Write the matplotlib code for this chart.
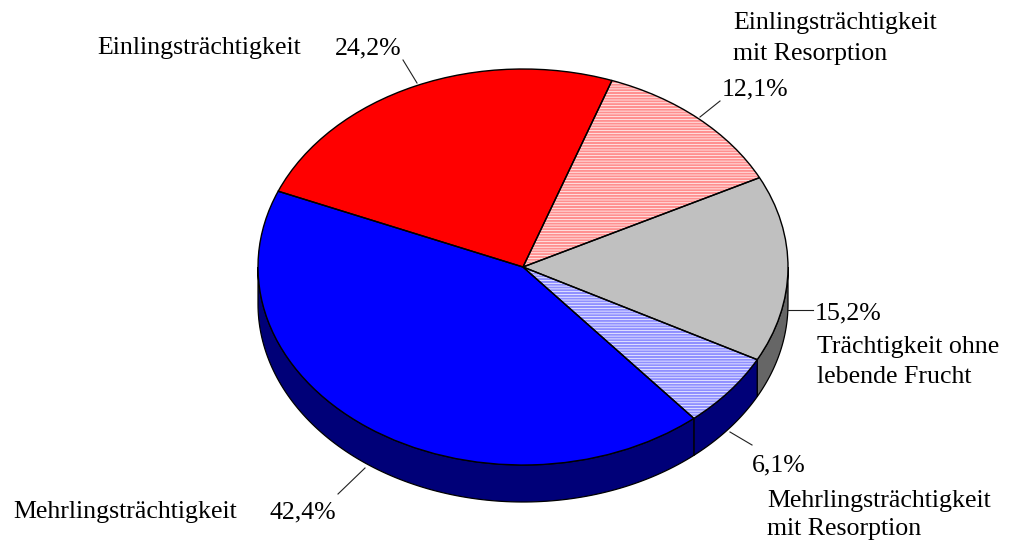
import numpy as np
import matplotlib
matplotlib.use("Agg")
import matplotlib.pyplot as plt
from matplotlib.patches import Polygon
from matplotlib.transforms import Affine2D

# ---- data -------------------------------------------------------------
categories = [
    "Einlingsträchtigkeit",
    "Einlingsträchtigkeit\nmit Resorption",
    "Trächtigkeit ohne\nlebende Frucht",
    "Mehrlingsträchtigkeit\nmit Resorption",
    "Mehrlingsträchtigkeit",
]
shares = [24.2, 12.1, 15.2, 6.1, 42.4]

top_colors = ["#FF0000", "#FFFFFF", "#C0C0C0", "#FFFFFF", "#0000FF"]
hatch_colors = ["#FF0000", "#FF9090", "#C0C0C0", "#9090FF", "#0000FF"]
hatches = ["", "------", "", "------", ""]
side_colors = ["#800000", "#A05050", "#666666", "#000078", "#000078"]

# ---- layout (pixels) ---------------------------------------------------
W, H = 1009, 543
CX, CY = 523, 267          # centre of the top face
RX, RY = 265, 198          # half axes of the top face
DEPTH = 37                 # thickness of the disc
START = 157.5              # angle where the first slice begins

plt.rcParams["hatch.linewidth"] = 1.5
plt.rcParams["font.family"] = ["Liberation Serif", "DejaVu Serif"]

fig = plt.figure(figsize=(W / 100, H / 100), dpi=100)
ax = fig.add_axes([0, 0, 1, 1])

# side walls of the disc (only the front half is visible)
d = DEPTH / RY
bounds = START - np.concatenate([[0], np.cumsum(shares)]) * 3.6
for i in range(len(shares)):
    hi, lo = bounds[i], bounds[i + 1]
    for k in (-1, 0, 1):
        a, b = max(lo + 360 * k, -180), min(hi + 360 * k, 0)
        if b <= a:
            continue
        t = np.radians(np.linspace(a, b, 120))
        upper = np.column_stack([np.cos(t), np.sin(t)])
        lower = np.column_stack([np.cos(t), np.sin(t) - d])[::-1]
        ax.add_patch(Polygon(np.vstack([upper, lower]), closed=True,
                             facecolor=side_colors[i], edgecolor="black",
                             linewidth=0.9, zorder=0.5))

# top face: fills (with hatching), then black outlines
wedges, _ = ax.pie(shares, colors=top_colors, startangle=START,
                   counterclock=False, radius=1, center=(0, 0),
                   hatch=hatches, wedgeprops=dict(linewidth=0))
for w, hc in zip(wedges, hatch_colors):
    w.set_edgecolor(hc)
    w.set_linewidth(0)
    w.set_zorder(1)
outlines, _ = ax.pie(shares, startangle=START, counterclock=False,
                     radius=1, center=(0, 0),
                     wedgeprops=dict(facecolor="none", edgecolor="black",
                                     linewidth=1.0))
for w in outlines:
    w.set_zorder(2)

ax.set_aspect("auto")
ax.set_xlim(-CX / RX, (W - CX) / RX)
ax.set_ylim((CY - H) / RY, CY / RY)
ax.axis("off")

# ---- labels (pixel coordinates, origin top-left) ------------------------
px = Affine2D().scale(1 / W, -1 / H).translate(0, 1) + fig.transFigure
pct = [f"{v:.1f}".replace(".", ",") + "%" for v in shares]
FS = 18.6

def txt(x, y, s):
    fig.text(x, y, s, transform=px, fontsize=FS, ha="left", va="baseline",
             color="black")

def leader(x0, y0, x1, y1):
    fig.add_artist(plt.Line2D([x0, x1], [y0, y1], transform=px,
                              color="#202020", linewidth=0.8))

txt(97, 54, categories[0])
txt(335, 54, pct[0])
leader(403, 60, 417, 83)

txt(733, 29, categories[1].split("\n")[0])
txt(733, 60, categories[1].split("\n")[1])
txt(722, 95, pct[1])
leader(720, 101, 700, 117)

txt(815, 319, pct[2])
txt(817, 353, categories[2].split("\n")[0])
txt(817, 383, categories[2].split("\n")[1])
leader(788, 310, 813, 310)

txt(752, 471, pct[3])
txt(767, 507, categories[3].split("\n")[0])
txt(767, 535, categories[3].split("\n")[1])
leader(730, 432, 752, 445)

txt(13, 518, categories[4])
txt(269, 518, pct[4])
leader(365, 468, 338, 494)

fig.savefig("out.png", dpi=100, facecolor="white")
